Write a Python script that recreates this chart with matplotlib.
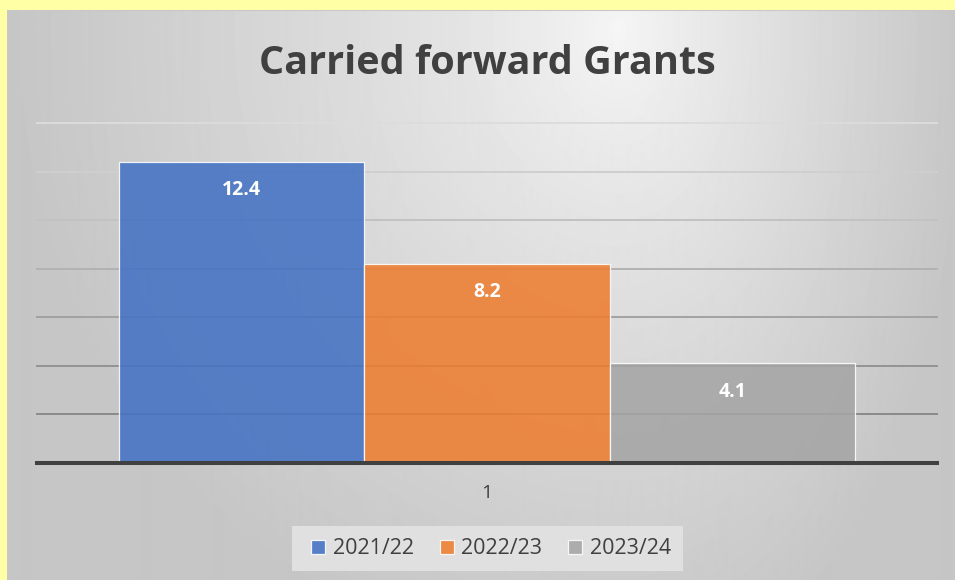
import numpy as np
import matplotlib
matplotlib.use("Agg")
import matplotlib.pyplot as plt
from matplotlib.patches import Rectangle

# ---- data ----
title = "Carried forward Grants"
category = "1"
series = ["2021/22", "2022/23", "2023/24"]
values = [12.4, 8.2, 4.1]
colors = ["#4472C4", "#ED7D31", "#A5A5A5"]

W, H = 955, 580
fig = plt.figure(figsize=(W / 100, H / 100), dpi=100)
fig.patch.set_facecolor("#FFFFA6")

# ---- gradient background panel ----
pw, ph = W - 7, H - 10
bg = fig.add_axes([7 / W, 0, pw / W, ph / H], zorder=0)
yy, xx = np.mgrid[0:ph, 0:pw].astype(float)
cx, cy = 610.0, 20.0
blend = 1 / (1 + np.exp(-(xx - cx) / 120.0))
scale = cx * (1 - blend) + (pw - cx) * blend
dx = (xx - cx) / scale
dy = (yy - cy) / (ph * 1.15)
d = np.clip(np.sqrt(dx ** 2 + dy ** 2), 0, 1)
light, dark = 0.965, 0.775
img = light - (light - dark) * d ** 0.8
bg.imshow(img, cmap="gray", vmin=0, vmax=1, aspect="auto", extent=[0, 1, 0, 1], origin="upper",
          interpolation="bilinear")
bg.axhline(1, color="#c8c8c8", lw=1.5)
bg.set_xlim(0, 1)
bg.set_ylim(0, 1)
bg.set_axis_off()

# ---- plot area ----
left, right = 37 / W, 937 / W
bottom, top = (H - 463) / H, (H - 123) / H
ax = fig.add_axes([left, bottom, right - left, top - bottom], zorder=1)
ax.patch.set_alpha(0)
ax.set_ylim(0, 14)
ax.set_xlim(-1.834, 1.834)

grid_cols = {2: "#8a8a8a", 4: "#939393", 6: "#a2a2a2", 8: "#b2b2b2", 10: "#c2c2c2", 12: "#cfcfcf", 14: "#dcdcdc"}
for yv, c in grid_cols.items():
    ax.axhline(yv, color=c, lw=1.4, zorder=1, clip_on=False)

offsets = [-1, 0, 1]
for off, v, c, s in zip(offsets, values, colors, series):
    ax.bar(off, v, width=1.0, color=c, alpha=0.88, edgecolor=(1, 1, 1, 0.55), linewidth=0.9, zorder=2, label=s)
    ax.annotate(f"{v}", xy=(off, v), xytext=(0, -20.3), textcoords="offset points",
                ha="center", va="center", color="white", fontsize=14, fontweight="bold",
                family="Open Sans", zorder=4)

ax.axhline(0, color="#404040", lw=2.9, zorder=3, clip_on=False)
for sp in ax.spines.values():
    sp.set_visible(False)
ax.set_yticks([])
ax.set_xticks([0])
ax.set_xticklabels([category], fontsize=14, color="#404040", family="Open Sans")
ax.tick_params(axis="x", length=0, pad=15)

fig.text(487 / W, 1 - 63 / H, title, ha="center", va="center", fontsize=28.5,
         fontweight="bold", color="#404040", family="Open Sans")

# legend box
fig.patches.append(Rectangle((292 / W, 1 - 571 / H), (683 - 292) / W, 45 / H,
                             transform=fig.transFigure, facecolor="#e0e0e0", edgecolor="none", zorder=2))
handles, labels = ax.get_legend_handles_labels()
leg = fig.legend(handles, labels, loc="center", bbox_to_anchor=(491 / W, 1 - 549 / H), ncol=3,
                 frameon=False, handlelength=0.65, handleheight=0.65,
                 handletextpad=0.35, columnspacing=1.2,
                 prop={"family": "Open Sans", "size": 15.5})
for t in leg.get_texts():
    t.set_color("#404040")
leg.set_zorder(5)

fig.savefig("out.png", dpi=100)
